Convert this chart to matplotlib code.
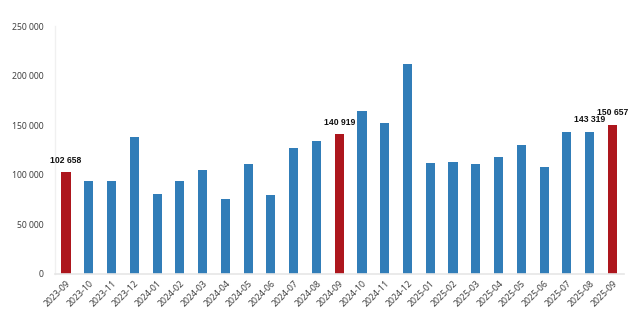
import matplotlib
matplotlib.use("Agg")
import matplotlib.pyplot as plt
from matplotlib.ticker import FuncFormatter, MultipleLocator

months = ["2023-09", "2023-10", "2023-11", "2023-12", "2024-01", "2024-02", "2024-03",
          "2024-04", "2024-05", "2024-06", "2024-07", "2024-08", "2024-09", "2024-10",
          "2024-11", "2024-12", "2025-01", "2025-02", "2025-03", "2025-04", "2025-05",
          "2025-06", "2025-07", "2025-08", "2025-09"]
values = [102658, 93700, 93400, 138400, 80500, 93700, 105100,
          75500, 110500, 79500, 127000, 134100, 140919, 164400,
          152600, 212200, 111900, 112900, 110900, 118200, 130100,
          107800, 142900, 143319, 150657]
highlight = ["2023-09", "2024-09", "2025-09"]
labelled = ["2023-09", "2024-09", "2025-08", "2025-09"]

BLUE = "#317db8"
RED = "#ad161d"

fig = plt.figure(figsize=(6.32, 3.30), dpi=100)
ax = fig.add_axes([0.0865, 0.1706, 0.9005, 0.7494])

x = list(range(len(months)))
colors = [RED if m in highlight else BLUE for m in months]
ax.bar(x, values, width=0.4, color=colors, edgecolor="none", zorder=2)

for i, (m, v) in enumerate(zip(months, values)):
    if m in labelled:
        txt = f"{v:,}".replace(",", " ")
        ax.annotate(txt, (i, v), xytext=(0, 8.6), textcoords="offset points",
                    ha="center", va="center", fontsize=6.2, fontweight="bold",
                    family="Liberation Sans", color="#111111")

ax.set_xlim(-0.5, len(months) - 0.5)
ax.set_ylim(0, 250000)
ax.yaxis.set_major_locator(MultipleLocator(50000))
ax.yaxis.set_major_formatter(FuncFormatter(lambda v, p: f"{int(v):,}".replace(",", " ")))

ax.set_xticks(x)
ax.set_xticklabels(months, rotation=45, ha="right", va="top", rotation_mode="anchor",
                   fontsize=6.3, family="Noto Sans", color="#404040")
for lab in ax.get_yticklabels():
    lab.set_fontsize(6.2)
    lab.set_family("Noto Sans")
    lab.set_color("#404040")

ax.tick_params(axis="both", length=0)
ax.tick_params(axis="y", pad=8)
ax.tick_params(axis="x", pad=3.5)

for s in ["top", "right"]:
    ax.spines[s].set_visible(False)
ax.spines["left"].set_color("#f0f0f0")
ax.spines["bottom"].set_color("#e6e6e6")
ax.spines["left"].set_linewidth(1.0)
ax.spines["bottom"].set_linewidth(1.2)

fig.savefig("out.png", dpi=100, facecolor="white")
